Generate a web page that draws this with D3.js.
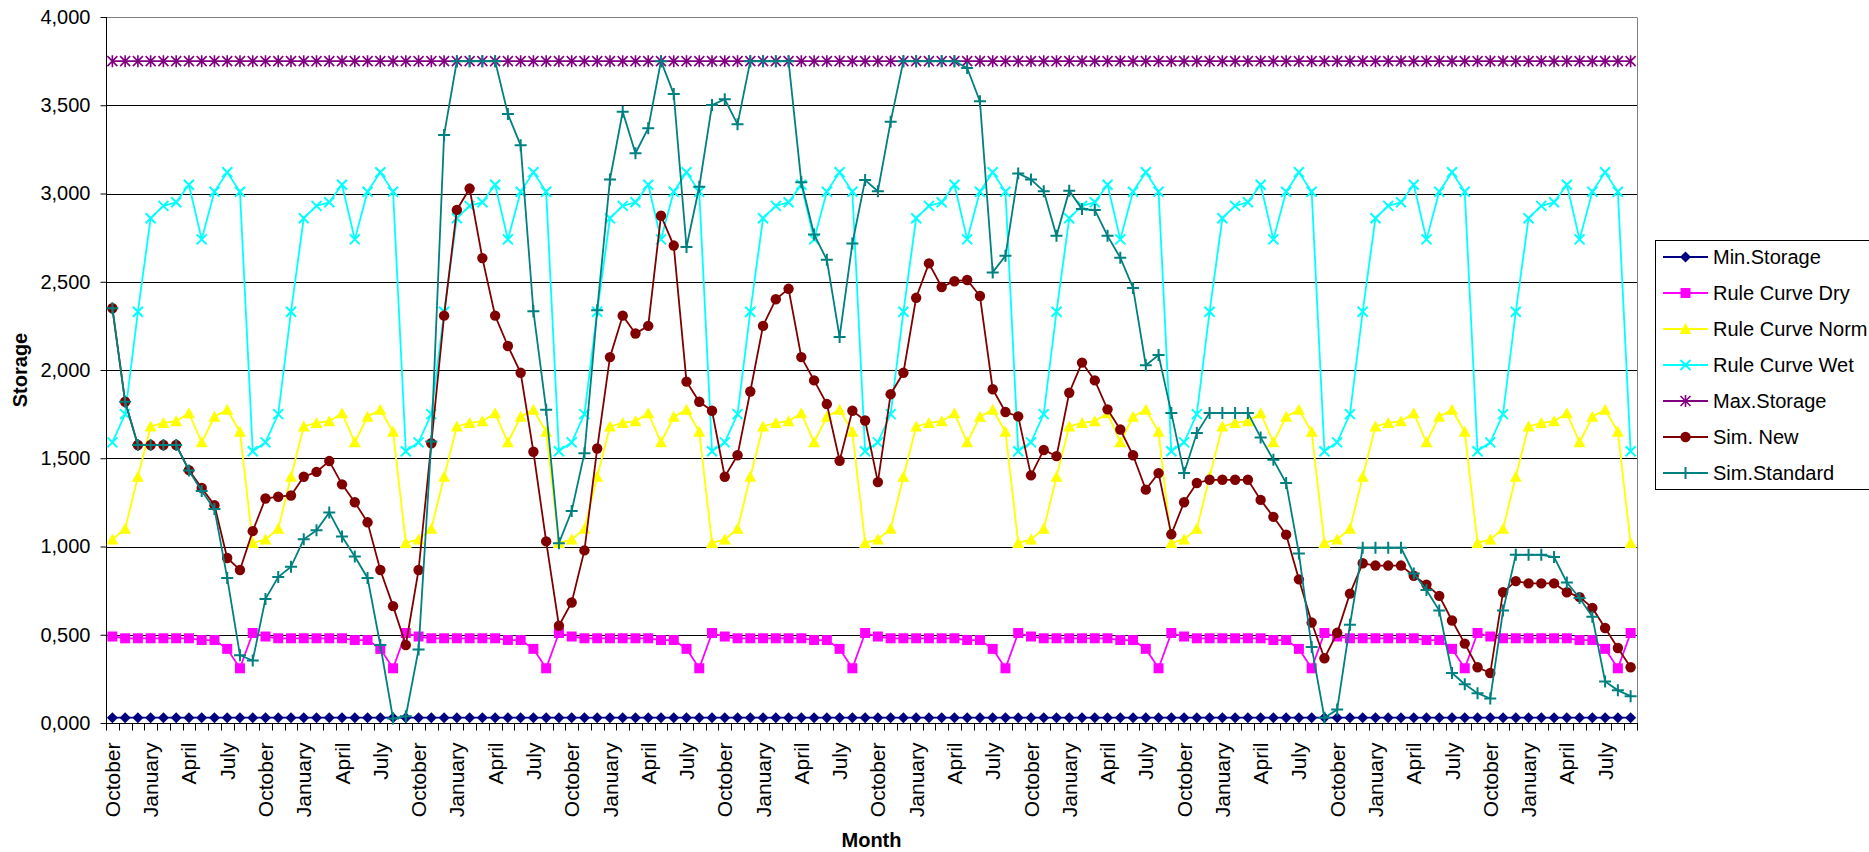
<!DOCTYPE html>
<html>
<head>
<meta charset="utf-8">
<script src="https://cdn.jsdelivr.net/npm/d3@7"></script>
<style>
  html, body { margin: 0; padding: 0; background: #fff; }
  svg { display: block; font-family: "Liberation Sans", Arial, sans-serif; }
</style>
</head>
<body>
<svg id="chart" width="1869" height="852"></svg>
<script>
// Month names of the water year (October → September)
const months = ["October", "November", "December", "January", "February", "March",
                "April", "May", "June", "July", "August", "September"];
const nYears = 10;

// Monthly rule curves (same every year), storage units
const ruleDry  = [0.49, 0.48, 0.48, 0.48, 0.48, 0.48, 0.48, 0.47, 0.47, 0.42, 0.31, 0.51];
const ruleNorm = [1.04, 1.10, 1.395, 1.68, 1.70, 1.71, 1.755, 1.59, 1.735, 1.775, 1.65, 1.02];
const ruleWet  = [1.59, 1.75, 2.33, 2.86, 2.93, 2.95, 3.05, 2.74, 3.01, 3.12, 3.01, 1.54];
const minStorage = [0.03, 0.03, 0.03, 0.03, 0.03, 0.03, 0.03, 0.03, 0.03, 0.03, 0.03, 0.03];
const maxStorage = [3.75, 3.75, 3.75, 3.75, 3.75, 3.75, 3.75, 3.75, 3.75, 3.75, 3.75, 3.75];

// Simulated storage, 120 months
const simNew = [
  2.35, 1.82, 1.575, 1.575, 1.575, 1.575, 1.433, 1.332, 1.234, 0.935, 0.867, 1.087,
  1.272, 1.282, 1.289, 1.395, 1.423, 1.484, 1.352, 1.251, 1.137, 0.867, 0.662, 0.442,
  0.867, 1.585, 2.308, 2.907, 3.028, 2.634, 2.308, 2.136, 1.984, 1.537, 1.029, 0.551,
  0.683, 0.978, 1.555, 2.073, 2.308, 2.207, 2.25, 2.874, 2.705, 1.934, 1.82, 1.769,
  1.395, 1.517, 1.878, 2.25, 2.401, 2.46, 2.073, 1.941, 1.807, 1.486, 1.769, 1.714,
  1.365, 1.863, 1.984, 2.409, 2.604, 2.47, 2.503, 2.51, 2.419, 1.891, 1.762, 1.737,
  1.403, 1.547, 1.512, 1.871, 2.042, 1.941, 1.777, 1.663, 1.517, 1.322, 1.416, 1.069,
  1.251, 1.36, 1.378, 1.378, 1.378, 1.378, 1.264, 1.168, 1.067, 0.814, 0.569, 0.367,
  0.511, 0.733, 0.905, 0.892, 0.892, 0.892, 0.834, 0.784, 0.72, 0.581, 0.45, 0.316,
  0.283, 0.741, 0.804, 0.791, 0.791, 0.791, 0.741, 0.713, 0.652, 0.538, 0.425, 0.316
];
const simStandard = [
  2.35, 1.82, 1.575, 1.575, 1.575, 1.575, 1.43, 1.315, 1.213, 0.822, 0.384, 0.354,
  0.703, 0.827, 0.885, 1.041, 1.092, 1.193, 1.057, 0.943, 0.822, 0.442, 0.025, 0.038,
  0.417, 1.595, 3.332, 3.75, 3.75, 3.75, 3.75, 3.45, 3.273, 2.333, 1.775, 1.019,
  1.201, 1.529, 2.338, 3.079, 3.463, 3.228, 3.37, 3.75, 3.564, 2.697, 3.038, 3.501,
  3.534, 3.392, 3.75, 3.75, 3.75, 3.75, 3.064, 2.768, 2.624, 2.187, 2.717, 3.076,
  3.013, 3.407, 3.75, 3.75, 3.75, 3.75, 3.75, 3.711, 3.522, 2.553, 2.647, 3.114,
  3.079, 3.013, 2.76, 3.016, 2.912, 2.907, 2.76, 2.636, 2.465, 2.027, 2.085, 1.757,
  1.416, 1.643, 1.757, 1.757, 1.757, 1.757, 1.618, 1.491, 1.36, 0.961, 0.43, 0.03,
  0.076, 0.556, 0.993, 0.993, 0.993, 0.993, 0.847, 0.753, 0.637, 0.283, 0.22, 0.169,
  0.139, 0.637, 0.953, 0.953, 0.953, 0.94, 0.796, 0.708, 0.602, 0.235, 0.185, 0.152
];

const yTicks = [0, 0.5, 1, 1.5, 2, 2.5, 3, 3.5, 4];
const labelMonths = ["October", "January", "April", "July"];

// ---------------------------------------------------------------
const svg = d3.select("#chart");
const plot = { left: 106, right: 1637, top: 17, bottom: 723 };
const nMonths = months.length * nYears;
const index = d3.range(nMonths);
const monthOf = i => months[i % months.length];

const x = d3.scaleBand().domain(index).range([plot.left, plot.right]).padding(0);
const y = d3.scaleLinear().domain([0, 4]).range([plot.bottom, plot.top]);
const cx = i => x(i) + x.bandwidth() / 2;

const locale = d3.formatLocale({ decimal: ",", thousands: ".", grouping: [3], currency: ["", ""] });
const fmt = locale.format(".3f");

// gridlines
svg.append("g")
  .selectAll("line")
  .data(yTicks.filter(v => v > 0))
  .join("line")
  .attr("x1", plot.left).attr("x2", plot.right)
  .attr("y1", d => Math.round(y(d)) + 0.5).attr("y2", d => Math.round(y(d)) + 0.5)
  .attr("stroke", d => d === 4 ? "#808080" : "#000")
  .attr("stroke-width", 1);

// right border of plot area
svg.append("line")
  .attr("x1", plot.right + 0.5).attr("x2", plot.right + 0.5)
  .attr("y1", Math.round(y(4)) + 0.5).attr("y2", plot.bottom)
  .attr("stroke", "#808080");

// Y axis
const yAxis = svg.append("g")
  .attr("transform", `translate(${plot.left + 0.5},0)`)
  .call(d3.axisLeft(y).tickValues(yTicks).tickFormat(fmt).tickSize(6).tickPadding(10));
yAxis.select(".domain").attr("stroke", "#000").attr("d", `M-0,${plot.top}V${plot.bottom}`);
yAxis.selectAll(".tick line").attr("stroke", "#000");
yAxis.selectAll(".tick text")
  .attr("font-size", 20).attr("fill", "#000")
  .attr("font-family", "Liberation Sans, Arial, sans-serif");

// X axis: tick marks at month boundaries, labels every third month
const xg = svg.append("g").attr("transform", `translate(0,${Math.round(plot.bottom) + 0.5})`);
xg.append("line")
  .attr("x1", plot.left).attr("x2", plot.right + 1)
  .attr("stroke", "#000");
xg.selectAll("line.tk")
  .data(d3.range(nMonths + 1))
  .join("line")
  .attr("class", "tk")
  .attr("x1", i => Math.round(plot.left + i * x.bandwidth()) + 0.5)
  .attr("x2", i => Math.round(plot.left + i * x.bandwidth()) + 0.5)
  .attr("y1", 0).attr("y2", 7)
  .attr("stroke", "#000");
xg.selectAll("text")
  .data(index.filter(i => labelMonths.includes(monthOf(i))))
  .join("text")
  .attr("transform", i => `translate(${cx(i)},19) rotate(-90)`)
  .attr("text-anchor", "end")
  .attr("dy", "0.36em")
  .attr("font-size", 21)
  .attr("fill", "#000")
  .text(i => monthOf(i));

// Axis titles
svg.append("text")
  .attr("transform", `translate(20,${(plot.top + plot.bottom) / 2}) rotate(-90)`)
  .attr("text-anchor", "middle").attr("dy", "0.36em")
  .attr("font-size", 20).attr("font-weight", "bold")
  .text("Storage");
svg.append("text")
  .attr("x", (plot.left + plot.right) / 2).attr("y", 847)
  .attr("text-anchor", "middle")
  .attr("font-size", 20).attr("font-weight", "bold")
  .text("Month");

// Marker shapes
const markers = {
  diamond: g => g.append("path").attr("d", "M0,-5.5L5.5,0L0,5.5L-5.5,0Z"),
  square: g => g.append("path").attr("d", "M-5,-5H5V5H-5Z"),
  triangle: g => g.append("path").attr("d", "M0,-6L6,5H-6Z"),
  cross: g => g.append("path").attr("d", "M-5,-5L5,5M-5,5L5,-5").attr("fill", "none").attr("stroke-width", 2),
  star: g => g.append("path").attr("d", "M-5,-5L5,5M-5,5L5,-5M0,-6V6").attr("fill", "none").attr("stroke-width", 1.6),
  circle: g => g.append("circle").attr("r", 5.2),
  plus: g => g.append("path").attr("d", "M-6,0H6M0,-6V6").attr("fill", "none").attr("stroke-width", 2)
};

const series = [
  { name: "Min.Storage",     color: "#000080", marker: "diamond",  values: index.map(i => minStorage[i % 12]) },
  { name: "Rule Curve Dry",  color: "#FF00FF", marker: "square",   values: index.map(i => ruleDry[i % 12]) },
  { name: "Rule Curve Norm", color: "#FFFF00", marker: "triangle", values: index.map(i => ruleNorm[i % 12]) },
  { name: "Rule Curve Wet",  color: "#00FFFF", marker: "cross",    values: index.map(i => ruleWet[i % 12]) },
  { name: "Max.Storage",     color: "#800080", marker: "star",     values: index.map(i => maxStorage[i % 12]) },
  { name: "Sim. New",        color: "#800000", marker: "circle",   values: simNew },
  { name: "Sim.Standard",    color: "#008080", marker: "plus",     values: simStandard }
];

const line = d3.line().x((d, i) => cx(i)).y(d => y(d));

series.forEach(s => {
  const g = svg.append("g");
  g.append("path")
    .attr("d", line(s.values))
    .attr("fill", "none")
    .attr("stroke", s.color)
    .attr("stroke-width", 1.8);
  const pts = g.selectAll("g.pt")
    .data(s.values)
    .join("g")
    .attr("class", "pt")
    .attr("transform", (d, i) => `translate(${cx(i)},${y(d)})`)
    .attr("fill", s.color)
    .attr("stroke", s.color);
  pts.each(function () {
    const m = markers[s.marker](d3.select(this));
    if (s.marker === "circle" || s.marker === "diamond" || s.marker === "square" || s.marker === "triangle") {
      m.attr("stroke", "none");
    }
  });
});

// Legend
const lg = svg.append("g");
lg.append("rect")
  .attr("x", 1655.5).attr("y", 240.5)
  .attr("width", 260).attr("height", 249)
  .attr("fill", "#fff").attr("stroke", "#000").attr("stroke-width", 1);
const rowY = d3.scalePoint().domain(series.map(s => s.name)).range([257, 473]);
series.forEach(s => {
  const ry = rowY(s.name);
  const row = lg.append("g").attr("transform", `translate(0,${ry})`);
  row.append("line")
    .attr("x1", 1663).attr("x2", 1708)
    .attr("stroke", s.color).attr("stroke-width", 1.8);
  const mg = row.append("g").attr("transform", "translate(1685.5,0)")
    .attr("fill", s.color).attr("stroke", s.color);
  const m = markers[s.marker](mg);
  if (["circle", "diamond", "square", "triangle"].includes(s.marker)) m.attr("stroke", "none");
  row.append("text")
    .attr("x", 1713).attr("dy", "0.36em")
    .attr("font-size", 20).attr("fill", "#000")
    .text(s.name);
});
</script>
</body>
</html>
